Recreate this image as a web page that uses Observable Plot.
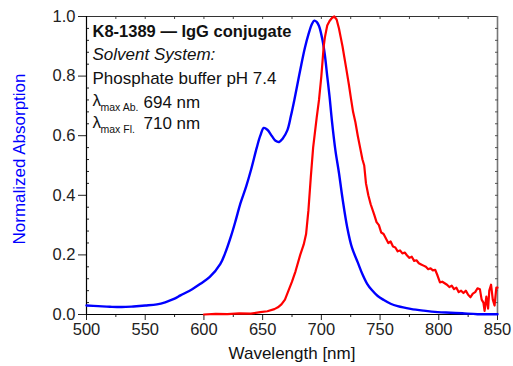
<!DOCTYPE html>
<html><head><meta charset="utf-8">
<script src="https://cdn.jsdelivr.net/npm/d3@7"></script>
<script src="https://cdn.jsdelivr.net/npm/@observablehq/plot@0.6"></script>
<style>body{margin:0;background:#fff}</style>
</head><body><div id="chart"></div>
<script>
// Absorption (blue)
const absWavelength = [500,510,520,530,540,550,560,567,575,580,590,597,605,614,618,623,627,631,636,640,645,648,651,654,658,661,664,667,671,674,677,680,683,686,689,692,694,696,698,701,703,705,707,709,712,715,718,722,726,731,735,739,743,748,753,759,765,776,787,799,810,820,833,850];
const absValue = [0.030,0.028,0.026,0.025,0.027,0.030,0.034,0.041,0.053,0.064,0.085,0.103,0.126,0.170,0.205,0.262,0.315,0.372,0.430,0.484,0.560,0.600,0.626,0.620,0.598,0.583,0.579,0.590,0.618,0.665,0.720,0.780,0.840,0.895,0.940,0.975,0.986,0.982,0.968,0.920,0.870,0.800,0.730,0.650,0.550,0.475,0.390,0.293,0.225,0.175,0.135,0.103,0.082,0.062,0.049,0.036,0.028,0.019,0.013,0.008,0.006,0.004,0.001,0.001];
// Fluorescence (red)
const flWavelength = [600,610,620,630,640,648,654,660,663,666,669,672,675,678,682,685,687,689,691,693,696,698,700,702,703,705,707,709,711,713,715,716.5,718,719.5,721,723.5,725,727,729,731,733,735,736.5,738,740,742,745,747,749,751,753,755,757,759,761,763,765,767,769,771,773,775,777,779,781,783,785,787,789,791,793,795,797,799,801,803,805,807,809,811,813,815,817,819,821,823,825,827,829,831,833,835,836.5,838,839,840.5,842,843,844.5,846,847.5,849,850];
const flValue = [0.000,0.002,0.001,0.004,0.003,0.008,0.011,0.018,0.024,0.034,0.050,0.080,0.110,0.145,0.200,0.235,0.270,0.350,0.460,0.560,0.660,0.720,0.800,0.900,0.930,0.970,0.985,0.995,1.000,0.990,0.960,0.930,0.900,0.865,0.830,0.770,0.730,0.680,0.645,0.600,0.560,0.520,0.500,0.440,0.400,0.370,0.335,0.310,0.300,0.275,0.270,0.255,0.240,0.245,0.228,0.225,0.212,0.215,0.205,0.208,0.198,0.190,0.194,0.180,0.182,0.172,0.168,0.164,0.160,0.152,0.155,0.148,0.150,0.130,0.108,0.110,0.105,0.100,0.092,0.097,0.085,0.090,0.075,0.080,0.072,0.080,0.066,0.058,0.070,0.075,0.088,0.085,0.050,0.040,0.012,0.060,0.020,0.080,0.100,0.050,0.030,0.090,0.090];

const xTicks = [500,550,600,650,700,750,800,850];
const xMinorTicks = [525,575,625,675,725,775,825];
const topTicks = [525,550,575,600,625,650,675,700,725,750,775,800,825];
const yTicks = [0,0.2,0.4,0.6,0.8,1.0];
const yMinorTicks = [0.04,0.08,0.12,0.16,0.24,0.28,0.32,0.36,0.44,0.48,0.52,0.56,0.64,0.68,0.72,0.76,0.84,0.88,0.92,0.96];
const rightTicks = [0.04,0.08,0.12,0.16,0.2,0.24,0.28,0.32,0.36,0.4,0.44,0.48,0.52,0.56,0.6,0.64,0.68,0.72,0.76,0.8,0.84,0.88,0.92,0.96];

const titleText = "K8-1389 — IgG conjugate";
const solventLabel = "Solvent System:";
const solventText = "Phosphate buffer pH 7.4";
const lambdaSymbol = "λ";
const absSub = "max Ab.";
const flSub = "max Fl.";
const absMax = "694 nm";
const flMax = "710 nm";
const xLabel = "Wavelength [nm]";
const yLabel = "Normalized Absorption";

const absData = absWavelength.map((w, i) => ({w, v: absValue[i]}));
const flData = flWavelength.map((w, i) => ({w, v: flValue[i]}));

const FONT = "Liberation Sans, Arial, Helvetica, sans-serif";

const chart = Plot.plot({
  width: 513,
  height: 366,
  marginLeft: 86,
  marginRight: 16,
  marginTop: 16,
  marginBottom: 52,
  style: {fontFamily: FONT, fontSize: "16.5px", color: "#222", background: "#fff"},
  x: {domain: [500, 850]},
  y: {domain: [0, 1]},
  marks: [
    Plot.ruleY([1], {stroke: "#333", strokeWidth: 1}),
    Plot.ruleX([850], {stroke: "#777", strokeWidth: 1.6}),
    Plot.axisX({ticks: xTicks, tickSize: 6, tickPadding: 3, label: null, fontSize: 16.5}),
    Plot.axisX({ticks: xMinorTicks, tickSize: 3, text: null, label: null}),
    Plot.axisX({anchor: "top", ticks: topTicks, tickSize: -2, text: null, label: null, stroke: "#444"}),
    Plot.axisY({ticks: yTicks, tickSize: 8, tickPadding: 3, tickFormat: d3.format(".1f"), label: null, fontSize: 16.5}),
    Plot.axisY({ticks: yMinorTicks, tickSize: -3, text: null, label: null}),
    Plot.axisY({anchor: "right", ticks: rightTicks, tickSize: -3, text: null, label: null, stroke: "#555"}),
    Plot.ruleX([500], {stroke: "#000", strokeWidth: 1.2}),
    Plot.ruleY([0], {stroke: "#000", strokeWidth: 1.2}),
    Plot.line(absData, {x: "w", y: "v", stroke: "#0000ff", strokeWidth: 2.4, curve: "catmull-rom"}),
    Plot.line(flData, {x: "w", y: "v", stroke: "#ff0000", strokeWidth: 2.2}),
    Plot.text([titleText], {frameAnchor: "top-left", dx: 6, dy: 8.5, lineAnchor: "top", textAnchor: "start", fontSize: 16.5, fontWeight: "bold", fill: "#111"}),
    Plot.text([solventLabel], {frameAnchor: "top-left", dx: 6, dy: 31.5, lineAnchor: "top", textAnchor: "start", fontSize: 17, fontStyle: "italic", fill: "#111"}),
    Plot.text([solventText], {frameAnchor: "top-left", dx: 6, dy: 55, lineAnchor: "top", textAnchor: "start", fontSize: 17, fill: "#111"}),
    Plot.text([lambdaSymbol], {frameAnchor: "top-left", dx: 6, dy: 77, lineAnchor: "top", textAnchor: "start", fontSize: 17, fill: "#111"}),
    Plot.text([absSub], {frameAnchor: "top-left", dx: 14, dy: 87.5, lineAnchor: "top", textAnchor: "start", fontSize: 10.5, fill: "#111"}),
    Plot.text([absMax], {frameAnchor: "top-left", dx: 57, dy: 79, lineAnchor: "top", textAnchor: "start", fontSize: 17, fill: "#111"}),
    Plot.text([lambdaSymbol], {frameAnchor: "top-left", dx: 6, dy: 99, lineAnchor: "top", textAnchor: "start", fontSize: 17, fill: "#111"}),
    Plot.text([flSub], {frameAnchor: "top-left", dx: 14, dy: 109, lineAnchor: "top", textAnchor: "start", fontSize: 10.5, fill: "#111"}),
    Plot.text([flMax], {frameAnchor: "top-left", dx: 57, dy: 100.5, lineAnchor: "top", textAnchor: "start", fontSize: 17, fill: "#111"}),
    Plot.text([xLabel], {frameAnchor: "bottom", dy: 32, lineAnchor: "top", fontSize: 17, fill: "#111"}),
    Plot.text([yLabel], {frameAnchor: "left", dx: -67, dy: -6.5, rotate: -90, textAnchor: "middle", lineAnchor: "middle", fontSize: 17, fill: "#0000ff"})
  ]
});
document.getElementById("chart").appendChild(chart);
</script>
</body></html>
